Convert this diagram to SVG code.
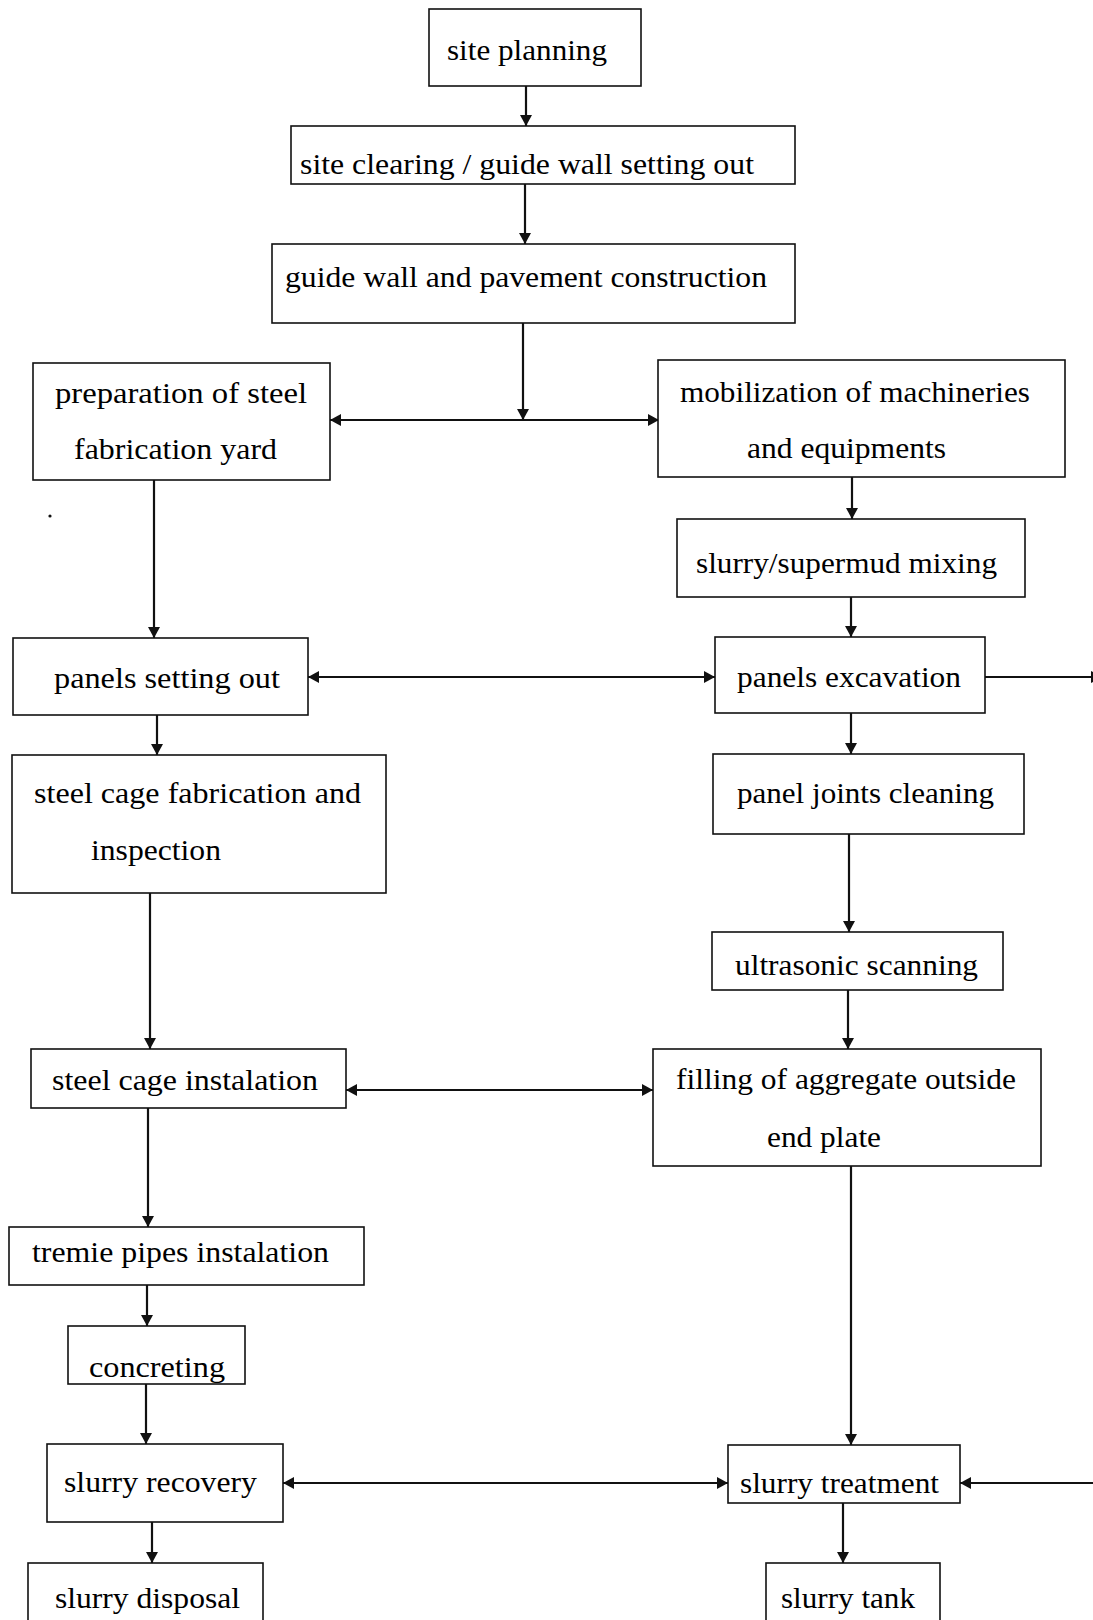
<svg xmlns="http://www.w3.org/2000/svg" width="1093" height="1620" viewBox="0 0 1093 1620">
<style>
.box{fill:#fff;stroke:#111;stroke-width:1.6}
.t{font-family:"Liberation Serif","Times New Roman",serif;font-size:29px;fill:#000}
.c{stroke:#111;stroke-width:2.2;fill:none}
</style>
<defs>
<marker id="ah" markerUnits="userSpaceOnUse" markerWidth="12" markerHeight="12" viewBox="0 0 11 12" refX="11" refY="6" orient="auto-start-reverse">
<path d="M0,0 L11,6 L0,12 z" fill="#111"/>
</marker>
</defs>
<rect width="1093" height="1620" fill="#fff"/>
<g id="connectors">
<line class="c" x1="526" y1="86" x2="526" y2="126" marker-end="url(#ah)"/>
<line class="c" x1="525" y1="184" x2="525" y2="244" marker-end="url(#ah)"/>
<line class="c" x1="523" y1="323" x2="523" y2="420" marker-end="url(#ah)"/>
<line class="c" x1="330" y1="420" x2="659" y2="420" marker-start="url(#ah)" marker-end="url(#ah)"/>
<line class="c" x1="852" y1="477" x2="852" y2="519" marker-end="url(#ah)"/>
<line class="c" x1="851" y1="597" x2="851" y2="637" marker-end="url(#ah)"/>
<line class="c" x1="308" y1="677" x2="715" y2="677" marker-start="url(#ah)" marker-end="url(#ah)"/>
<line class="c" x1="985" y1="677" x2="1102" y2="677" marker-end="url(#ah)"/>
<line class="c" x1="154" y1="480" x2="154" y2="638" marker-end="url(#ah)"/>
<line class="c" x1="157" y1="715" x2="157" y2="755" marker-end="url(#ah)"/>
<line class="c" x1="851" y1="713" x2="851" y2="754" marker-end="url(#ah)"/>
<line class="c" x1="150" y1="893" x2="150" y2="1049" marker-end="url(#ah)"/>
<line class="c" x1="849" y1="834" x2="849" y2="932" marker-end="url(#ah)"/>
<line class="c" x1="848" y1="990" x2="848" y2="1049" marker-end="url(#ah)"/>
<line class="c" x1="346" y1="1090" x2="653" y2="1090" marker-start="url(#ah)" marker-end="url(#ah)"/>
<line class="c" x1="148" y1="1108" x2="148" y2="1227" marker-end="url(#ah)"/>
<line class="c" x1="147" y1="1285" x2="147" y2="1326" marker-end="url(#ah)"/>
<line class="c" x1="146" y1="1384" x2="146" y2="1444" marker-end="url(#ah)"/>
<line class="c" x1="283" y1="1483" x2="728" y2="1483" marker-start="url(#ah)" marker-end="url(#ah)"/>
<line class="c" x1="851" y1="1166" x2="851" y2="1445" marker-end="url(#ah)"/>
<line class="c" x1="1093" y1="1483" x2="960" y2="1483" marker-end="url(#ah)"/>
<line class="c" x1="152" y1="1522" x2="152" y2="1563" marker-end="url(#ah)"/>
<line class="c" x1="843" y1="1503" x2="843" y2="1563" marker-end="url(#ah)"/>
</g>
<g id="site-planning"><rect class="box" x="429" y="9" width="212" height="77"/><text class="t" x="447" y="60" textLength="160" lengthAdjust="spacingAndGlyphs">site planning</text></g>
<g id="site-clearing"><rect class="box" x="291" y="126" width="504" height="58"/><text class="t" x="300" y="174" textLength="454" lengthAdjust="spacingAndGlyphs">site clearing / guide wall setting out</text></g>
<g id="guide-wall"><rect class="box" x="272" y="244" width="523" height="79"/><text class="t" x="285" y="287" textLength="482" lengthAdjust="spacingAndGlyphs">guide wall and pavement construction</text></g>
<g id="prep-yard"><rect class="box" x="33" y="363" width="297" height="117"/><text class="t" x="55" y="403" textLength="252" lengthAdjust="spacingAndGlyphs">preparation of steel</text><text class="t" x="74" y="459" textLength="203" lengthAdjust="spacingAndGlyphs">fabrication yard</text></g>
<g id="mobilization"><rect class="box" x="658" y="360" width="407" height="117"/><text class="t" x="680" y="402" textLength="350" lengthAdjust="spacingAndGlyphs">mobilization of machineries</text><text class="t" x="747" y="458" textLength="199" lengthAdjust="spacingAndGlyphs">and equipments</text></g>
<g id="slurry-mixing"><rect class="box" x="677" y="519" width="348" height="78"/><text class="t" x="696" y="573" textLength="301" lengthAdjust="spacingAndGlyphs">slurry/supermud mixing</text></g>
<g id="panels-excavation"><rect class="box" x="715" y="637" width="270" height="76"/><text class="t" x="737" y="687" textLength="224" lengthAdjust="spacingAndGlyphs">panels excavation</text></g>
<g id="panels-setting-out"><rect class="box" x="13" y="638" width="295" height="77"/><text class="t" x="54" y="688" textLength="226" lengthAdjust="spacingAndGlyphs">panels setting out</text></g>
<g id="steel-cage-fabrication"><rect class="box" x="12" y="755" width="374" height="138"/><text class="t" x="34" y="803" textLength="327" lengthAdjust="spacingAndGlyphs">steel cage fabrication and</text><text class="t" x="91" y="860" textLength="130" lengthAdjust="spacingAndGlyphs">inspection</text></g>
<g id="panel-joints-cleaning"><rect class="box" x="713" y="754" width="311" height="80"/><text class="t" x="737" y="803" textLength="257" lengthAdjust="spacingAndGlyphs">panel joints cleaning</text></g>
<g id="ultrasonic-scanning"><rect class="box" x="712" y="932" width="291" height="58"/><text class="t" x="735" y="975" textLength="243" lengthAdjust="spacingAndGlyphs">ultrasonic scanning</text></g>
<g id="filling-aggregate"><rect class="box" x="653" y="1049" width="388" height="117"/><text class="t" x="676" y="1089" textLength="340" lengthAdjust="spacingAndGlyphs">filling of aggregate outside</text><text class="t" x="767" y="1147" textLength="114" lengthAdjust="spacingAndGlyphs">end plate</text></g>
<g id="steel-cage-instalation"><rect class="box" x="31" y="1049" width="315" height="59"/><text class="t" x="52" y="1090" textLength="266" lengthAdjust="spacingAndGlyphs">steel cage instalation</text></g>
<g id="tremie-pipes"><rect class="box" x="9" y="1227" width="355" height="58"/><text class="t" x="32" y="1262" textLength="297" lengthAdjust="spacingAndGlyphs">tremie pipes instalation</text></g>
<g id="concreting"><rect class="box" x="68" y="1326" width="177" height="58"/><text class="t" x="89" y="1377" textLength="136" lengthAdjust="spacingAndGlyphs">concreting</text></g>
<g id="slurry-recovery"><rect class="box" x="47" y="1444" width="236" height="78"/><text class="t" x="64" y="1492" textLength="193" lengthAdjust="spacingAndGlyphs">slurry recovery</text></g>
<g id="slurry-treatment"><rect class="box" x="728" y="1445" width="232" height="58"/><text class="t" x="740" y="1493" textLength="199" lengthAdjust="spacingAndGlyphs">slurry treatment</text></g>
<g id="slurry-disposal"><rect class="box" x="28" y="1563" width="235" height="70"/><text class="t" x="55" y="1608" textLength="185" lengthAdjust="spacingAndGlyphs">slurry disposal</text></g>
<g id="slurry-tank"><rect class="box" x="766" y="1563" width="174" height="70"/><text class="t" x="781" y="1608" textLength="134" lengthAdjust="spacingAndGlyphs">slurry tank</text></g>
<circle cx="50" cy="516" r="1.6" fill="#111"/>
</svg>
